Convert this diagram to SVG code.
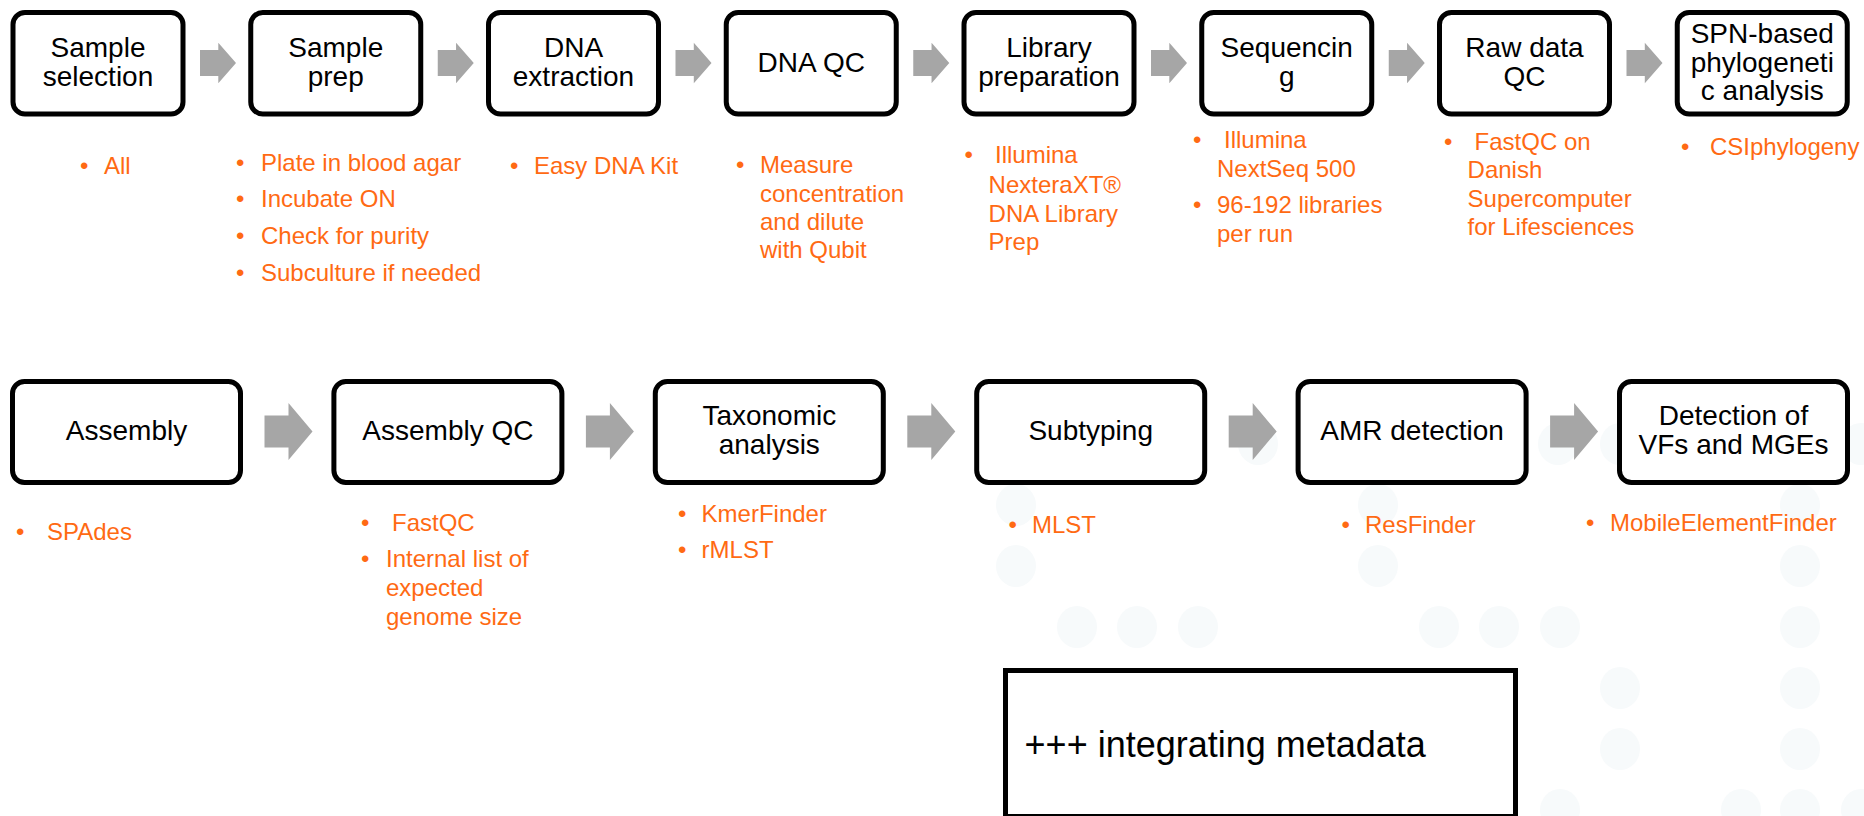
<svg xmlns="http://www.w3.org/2000/svg" width="1864" height="816" viewBox="0 0 1864 816">
<defs>
<style>
.box{fill:#fff;stroke:#000;stroke-width:5}
.meta{fill:#fff;stroke:#000;stroke-width:5;stroke-linejoin:miter}
.lbl{font-family:"Liberation Sans",Arial,sans-serif;font-size:28px;fill:#000;text-anchor:middle}
.mt{font-family:"Liberation Sans",Arial,sans-serif;font-size:36px;fill:#000}
.bul{font-family:"Liberation Sans",Arial,sans-serif;font-size:24px;fill:#ff6a13}
.arr{fill:#a6a6a6}
.dot{fill:#f7fafb}
</style>
<path id="arrS" d="M0,-13 H18.3 V-20.3 L36,0 L18.3,20.3 V13 H0 Z"/>
<path id="arrL" d="M0,-16 H24 V-28.5 L48,0 L24,28.5 V16 H0 Z"/>
</defs>
<rect x="0" y="0" width="1864" height="816" fill="#fff"/>
<g id="background-dots">
<ellipse class="dot" cx="1258" cy="444" rx="20" ry="21"/>
<ellipse class="dot" cx="1558" cy="444" rx="20" ry="21"/>
<ellipse class="dot" cx="1620" cy="444" rx="20" ry="21"/>
<ellipse class="dot" cx="1861" cy="444" rx="20" ry="21"/>
<ellipse class="dot" cx="1016" cy="505" rx="20" ry="21"/>
<ellipse class="dot" cx="1378" cy="505" rx="20" ry="21"/>
<ellipse class="dot" cx="1800" cy="505" rx="20" ry="21"/>
<ellipse class="dot" cx="1016" cy="566" rx="20" ry="21"/>
<ellipse class="dot" cx="1378" cy="566" rx="20" ry="21"/>
<ellipse class="dot" cx="1800" cy="566" rx="20" ry="21"/>
<ellipse class="dot" cx="1077" cy="627" rx="20" ry="21"/>
<ellipse class="dot" cx="1137" cy="627" rx="20" ry="21"/>
<ellipse class="dot" cx="1198" cy="627" rx="20" ry="21"/>
<ellipse class="dot" cx="1439" cy="627" rx="20" ry="21"/>
<ellipse class="dot" cx="1499" cy="627" rx="20" ry="21"/>
<ellipse class="dot" cx="1560" cy="627" rx="20" ry="21"/>
<ellipse class="dot" cx="1800" cy="627" rx="20" ry="21"/>
<ellipse class="dot" cx="1620" cy="688" rx="20" ry="21"/>
<ellipse class="dot" cx="1800" cy="688" rx="20" ry="21"/>
<ellipse class="dot" cx="1620" cy="749" rx="20" ry="21"/>
<ellipse class="dot" cx="1800" cy="749" rx="20" ry="21"/>
<ellipse class="dot" cx="1560" cy="810" rx="20" ry="21"/>
<ellipse class="dot" cx="1741" cy="810" rx="20" ry="21"/>
<ellipse class="dot" cx="1800" cy="810" rx="20" ry="21"/>
<ellipse class="dot" cx="1861" cy="810" rx="20" ry="21"/>
</g>
<g id="connectors">
<use href="#arrS" class="arr" x="200" y="63"/>
<use href="#arrS" class="arr" x="437.75" y="63"/>
<use href="#arrS" class="arr" x="675.5" y="63"/>
<use href="#arrS" class="arr" x="913.25" y="63"/>
<use href="#arrS" class="arr" x="1151" y="63"/>
<use href="#arrS" class="arr" x="1388.75" y="63"/>
<use href="#arrS" class="arr" x="1626.5" y="63"/>
<use href="#arrL" class="arr" x="264.5" y="431.5"/>
<use href="#arrL" class="arr" x="585.9" y="431.5"/>
<use href="#arrL" class="arr" x="907.3" y="431.5"/>
<use href="#arrL" class="arr" x="1228.7" y="431.5"/>
<use href="#arrL" class="arr" x="1550.1" y="431.5"/>
</g>
<g id="sample-selection">
<rect class="box" x="13" y="12.5" width="170" height="101.5" rx="12"/>
<text class="lbl" x="98" y="57">Sample</text>
<text class="lbl" x="98" y="86">selection</text>
<text class="bul" x="80" y="174">•</text>
<text class="bul" x="104" y="174">All</text>
</g>
<g id="sample-prep">
<rect class="box" x="250.75" y="12.5" width="170" height="101.5" rx="12"/>
<text class="lbl" x="335.75" y="57">Sample</text>
<text class="lbl" x="335.75" y="86">prep</text>
<text class="bul" x="236" y="171">•</text>
<text class="bul" x="261" y="171">Plate in blood agar</text>
<text class="bul" x="236" y="207">•</text>
<text class="bul" x="261" y="207">Incubate ON</text>
<text class="bul" x="236" y="244">•</text>
<text class="bul" x="261" y="244">Check for purity</text>
<text class="bul" x="236" y="281">•</text>
<text class="bul" x="261" y="281">Subculture if needed</text>
</g>
<g id="dna-extraction">
<rect class="box" x="488.5" y="12.5" width="170" height="101.5" rx="12"/>
<text class="lbl" x="573.5" y="57">DNA</text>
<text class="lbl" x="573.5" y="86">extraction</text>
<text class="bul" x="510" y="174">•</text>
<text class="bul" x="534" y="174">Easy DNA Kit</text>
</g>
<g id="dna-qc">
<rect class="box" x="726.25" y="12.5" width="170" height="101.5" rx="12"/>
<text class="lbl" x="811.25" y="72">DNA QC</text>
<text class="bul" x="736" y="173">•</text>
<text class="bul" x="760" y="173">Measure</text>
<text class="bul" x="760" y="202">concentration</text>
<text class="bul" x="760" y="230">and dilute</text>
<text class="bul" x="760" y="258">with Qubit</text>
</g>
<g id="library-preparation">
<rect class="box" x="964" y="12.5" width="170" height="101.5" rx="12"/>
<text class="lbl" x="1049" y="57">Library</text>
<text class="lbl" x="1049" y="86">preparation</text>
<text class="bul" x="964.5" y="163">•</text>
<text class="bul" x="995" y="163">Illumina</text>
<text class="bul" x="988.6" y="193">NexteraXT®</text>
<text class="bul" x="988.6" y="222">DNA Library</text>
<text class="bul" x="988.6" y="250">Prep</text>
</g>
<g id="sequencing">
<rect class="box" x="1201.75" y="12.5" width="170" height="101.5" rx="12"/>
<text class="lbl" x="1286.75" y="57">Sequencin</text>
<text class="lbl" x="1286.75" y="86">g</text>
<text class="bul" x="1193" y="148">•</text>
<text class="bul" x="1224" y="148">Illumina</text>
<text class="bul" x="1217" y="177">NextSeq 500</text>
<text class="bul" x="1193" y="213">•</text>
<text class="bul" x="1217" y="213">96-192 libraries</text>
<text class="bul" x="1217" y="242">per run</text>
</g>
<g id="raw-data-qc">
<rect class="box" x="1439.5" y="12.5" width="170" height="101.5" rx="12"/>
<text class="lbl" x="1524.5" y="57">Raw data</text>
<text class="lbl" x="1524.5" y="86">QC</text>
<text class="bul" x="1444" y="150">•</text>
<text class="bul" x="1474.6" y="150">FastQC on</text>
<text class="bul" x="1467.6" y="178">Danish</text>
<text class="bul" x="1467.6" y="207">Supercomputer</text>
<text class="bul" x="1467.6" y="235">for Lifesciences</text>
</g>
<g id="spn-phylogenetic-analysis">
<rect class="box" x="1677.25" y="12.5" width="170" height="101.5" rx="12"/>
<text class="lbl" x="1762.25" y="43">SPN-based</text>
<text class="lbl" x="1762.25" y="72">phylogeneti</text>
<text class="lbl" x="1762.25" y="100">c analysis</text>
<text class="bul" x="1681" y="155">•</text>
<text class="bul" x="1710" y="155">CSIphylogeny</text>
</g>
<g id="assembly">
<rect class="box" x="12.5" y="381.5" width="228" height="101" rx="12"/>
<text class="lbl" x="126.5" y="440">Assembly</text>
<text class="bul" x="16" y="540">•</text>
<text class="bul" x="47" y="540">SPAdes</text>
</g>
<g id="assembly-qc">
<rect class="box" x="333.9" y="381.5" width="228" height="101" rx="12"/>
<text class="lbl" x="447.9" y="440">Assembly QC</text>
<text class="bul" x="361" y="531">•</text>
<text class="bul" x="392" y="531">FastQC</text>
<text class="bul" x="361" y="567">•</text>
<text class="bul" x="386" y="567">Internal list of</text>
<text class="bul" x="386" y="596">expected</text>
<text class="bul" x="386" y="625">genome size</text>
</g>
<g id="taxonomic-analysis">
<rect class="box" x="655.3" y="381.5" width="228" height="101" rx="12"/>
<text class="lbl" x="769.3" y="425">Taxonomic</text>
<text class="lbl" x="769.3" y="454">analysis</text>
<text class="bul" x="678" y="522">•</text>
<text class="bul" x="701.6" y="522">KmerFinder</text>
<text class="bul" x="678" y="558">•</text>
<text class="bul" x="701.6" y="558">rMLST</text>
</g>
<g id="subtyping">
<rect class="box" x="976.7" y="381.5" width="228" height="101" rx="12"/>
<text class="lbl" x="1090.7" y="440">Subtyping</text>
<text class="bul" x="1008.6" y="533">•</text>
<text class="bul" x="1032" y="533">MLST</text>
</g>
<g id="amr-detection">
<rect class="box" x="1298.1" y="381.5" width="228" height="101" rx="12"/>
<text class="lbl" x="1412.1" y="440">AMR detection</text>
<text class="bul" x="1341.5" y="533">•</text>
<text class="bul" x="1365" y="533">ResFinder</text>
</g>
<g id="detection-vfs-mges">
<rect class="box" x="1619.5" y="381.5" width="228" height="101" rx="12"/>
<text class="lbl" x="1733.5" y="425">Detection of</text>
<text class="lbl" x="1733.5" y="454">VFs and MGEs</text>
<text class="bul" x="1586" y="531">•</text>
<text class="bul" x="1610" y="531">MobileElementFinder</text>
</g>
<g id="integrating-metadata">
<rect class="meta" x="1005.5" y="670.5" width="510" height="146"/>
<text class="mt" x="1024.6" y="757">+++ integrating metadata</text>
</g>
</svg>
